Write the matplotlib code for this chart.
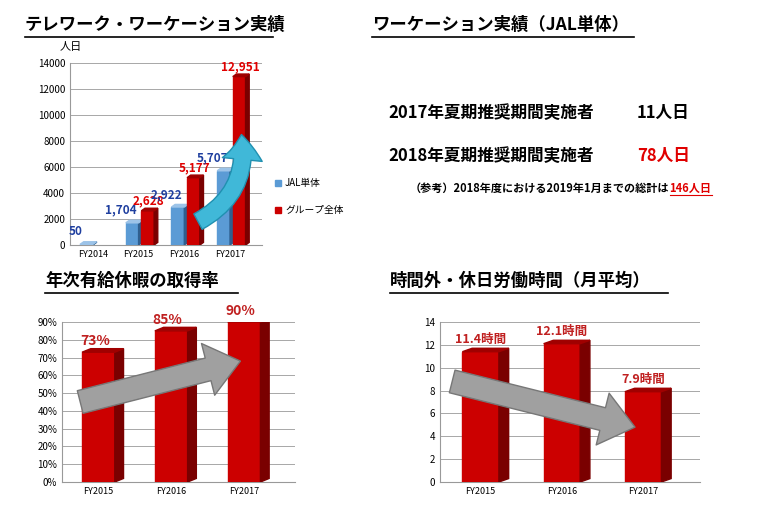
import matplotlib.pyplot as plt
from matplotlib.patches import Polygon
from matplotlib.lines import Line2D

plt.rcParams['font.family'] = 'Noto Sans CJK JP'

tele_years = ['FY2014', 'FY2015', 'FY2016', 'FY2017']
tele_jal = [50, 1704, 2922, 5707]
tele_group = [0, 2628, 5177, 12951]

leave_years = ['FY2015', 'FY2016', 'FY2017']
leave_rate = [73, 85, 90]

ot_years = ['FY2015', 'FY2016', 'FY2017']
ot_hours = [11.4, 12.1, 7.9]

RED, RED_D, RED_T = '#cc0000', '#7a0000', '#a00000'
BLUE, BLUE_D, BLUE_T = '#5b9bd5', '#2f5f8f', '#9cc3e8'


def bar3d(ax, x, h, w, dx, dy, c, cd, ct):
    ax.add_patch(Polygon([(x - w/2, 0), (x + w/2, 0), (x + w/2, h), (x - w/2, h)], color=c, zorder=3))
    ax.add_patch(Polygon([(x + w/2, 0), (x + w/2 + dx, dy), (x + w/2 + dx, h + dy), (x + w/2, h)], color=cd, zorder=3))
    ax.add_patch(Polygon([(x - w/2, h), (x + w/2, h), (x + w/2 + dx, h + dy), (x - w/2 + dx, h + dy)], color=ct, zorder=3))


def style(ax, ymax, step, fmt):
    ax.set_ylim(0, ymax)
    ax.set_yticks(range(0, ymax + 1, step))
    ax.set_yticklabels([fmt(v) for v in range(0, ymax + 1, step)], fontsize=7)
    ax.grid(axis='y', color='#999999', lw=0.6, zorder=0)
    for s in ['top', 'right']:
        ax.spines[s].set_visible(False)
    ax.spines['left'].set_color('#999999')
    ax.spines['bottom'].set_color('#999999')
    ax.tick_params(length=0, labelsize=7)


def title(fig, x, y, text, w):
    fig.text(x, y, text, fontsize=12.5, fontweight='bold', va='bottom')
    fig.add_artist(Line2D([x, x + w], [y - 0.006, y - 0.006], color='black', lw=1.2))


def arrow(ax, start, end, color, ec, rad=0.0, scale=22):
    ax.annotate('', xy=end, xytext=start,
                arrowprops=dict(arrowstyle='simple,head_width=1.6,head_length=1.0,tail_width=0.7',
                                fc=color, ec=ec, mutation_scale=scale,
                                connectionstyle=f'arc3,rad={rad}', shrinkA=0, shrinkB=0),
                zorder=5)


fig = plt.figure(figsize=(7.8, 5.05), dpi=100)
W, H = 780, 505


def axes_px(l, t, r, b):
    return fig.add_axes([l / W, 1 - b / H, (r - l) / W, (b - t) / H])


# top-left
ax1 = axes_px(70, 63, 262, 245)
style(ax1, 14000, 2000, lambda v: f'{v}')
ax1.set_xlim(-0.5, 3.7)
ax1.set_xticks(range(4))
ax1.set_xticklabels(tele_years, fontsize=6.5)
for i in range(4):
    bar3d(ax1, i - 0.14, tele_jal[i], 0.28, 0.08, 200, BLUE, BLUE_D, BLUE_T)
    if tele_group[i]:
        bar3d(ax1, i + 0.2, tele_group[i], 0.28, 0.08, 200, RED, RED_D, RED_T)
        ax1.text(i + 0.22, tele_group[i] + 500, f'{tele_group[i]:,}', color='#e00000',
                 fontsize=8.5, fontweight='bold', ha='center')
    ax1.text(i - 0.38, tele_jal[i] + 700, f'{tele_jal[i]:,}', color='#1f3f9f',
             fontsize=8.5, fontweight='bold', ha='center')
arrow(ax1, (2.3, 1800), (3.25, 8500), '#40b8d8', '#2090b0', rad=0.35, scale=18)
fig.text(60 / W, 1 - 47 / H, '人日', fontsize=8, va='center')
fig.patches.append(Polygon([[275/W, 1-186/H], [281/W, 1-186/H], [281/W, 1-180/H], [275/W, 1-180/H]],
                           color=BLUE, transform=fig.transFigure))
fig.text(285 / W, 1 - 183 / H, 'JAL単体', fontsize=7, va='center')
fig.patches.append(Polygon([[275/W, 1-213/H], [281/W, 1-213/H], [281/W, 1-207/H], [275/W, 1-207/H]],
                           color=RED, transform=fig.transFigure))
fig.text(285 / W, 1 - 210 / H, 'グループ全体', fontsize=7, va='center')
title(fig, 25 / W, 1 - 34 / H, 'テレワーク・ワーケーション実績', 248 / W)

# top-right
title(fig, 372 / W, 1 - 34 / H, 'ワーケーション実績（JAL単体）', 262 / W)
fig.text(388 / W, 1 - 113 / H, '2017年夏期推奨期間実施者', fontsize=12, fontweight='bold', va='center')
fig.text(637 / W, 1 - 113 / H, '11人日', fontsize=12, fontweight='bold', va='center')
fig.text(388 / W, 1 - 156 / H, '2018年夏期推奨期間実施者', fontsize=12, fontweight='bold', va='center')
fig.text(637 / W, 1 - 156 / H, '78人日', fontsize=12, fontweight='bold', va='center', color='#e00000')
ref = fig.text(410 / W, 1 - 188 / H, '（参考）2018年度における2019年1月までの総計は', fontsize=8,
               fontweight='bold', va='center')
bb = ref.get_window_extent(renderer=fig.canvas.get_renderer())
x_end = bb.x1 / W
red = fig.text(x_end, 1 - 188 / H, '146人日', fontsize=8, fontweight='bold', va='center', color='#e00000')
bb2 = red.get_window_extent(renderer=fig.canvas.get_renderer())
fig.add_artist(Line2D([bb2.x0 / W, bb2.x1 / W], [bb2.y0 / H] * 2, color='#e00000', lw=0.8))

# bottom-left
ax2 = axes_px(62, 322, 295, 482)
style(ax2, 90, 10, lambda v: f'{v}%')
ax2.set_xlim(-0.5, 2.7)
ax2.set_xticks(range(3))
ax2.set_xticklabels(leave_years, fontsize=6.5)
for i, v in enumerate(leave_rate):
    bar3d(ax2, i, v, 0.45, 0.12, 2, RED, RED_D, RED_T)
    ax2.text(i - 0.05, v + 4, f'{v}%', color='#c02020', fontsize=10, fontweight='bold', ha='center')
arrow(ax2, (-0.25, 45), (1.95, 68), '#a0a0a0', '#777777', scale=24)
title(fig, 45 / W, 1 - 290 / H, '年次有給休暇の取得率', 193 / W)

# bottom-right
ax3 = axes_px(440, 322, 700, 482)
style(ax3, 14, 2, lambda v: f'{v}')
ax3.set_xlim(-0.5, 2.7)
ax3.set_xticks(range(3))
ax3.set_xticklabels(ot_years, fontsize=6.5)
for i, v in enumerate(ot_hours):
    bar3d(ax3, i, v, 0.45, 0.12, 0.3, RED, RED_D, RED_T)
    ax3.text(i, v + 0.8, f'{v}時間', color='#c02020', fontsize=9, fontweight='bold', ha='center')
arrow(ax3, (-0.35, 8.8), (1.9, 4.8), '#a0a0a0', '#777777', scale=24)
title(fig, 390 / W, 1 - 290 / H, '時間外・休日労働時間（月平均）', 278 / W)

fig.savefig('out.png', dpi=100)
